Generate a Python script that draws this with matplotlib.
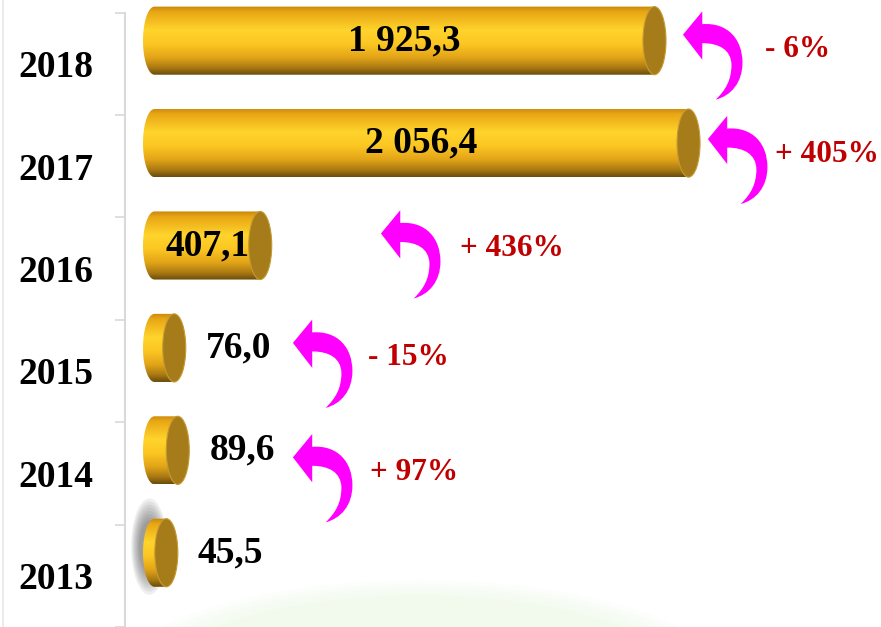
import numpy as np
import matplotlib
matplotlib.use("Agg")
import matplotlib.pyplot as plt
from matplotlib.path import Path
from matplotlib.patches import PathPatch, Ellipse
from matplotlib.colors import LinearSegmentedColormap
from matplotlib.transforms import Affine2D, ScaledTranslation, IdentityTransform

YEARS = ["2013", "2014", "2015", "2016", "2017", "2018"]
VALUES = [45.5, 89.6, 76.0, 407.1, 2056.4, 1925.3]
# change vs previous year, for 2014..2018
CHANGE_LABELS = ["+ 97%", "- 15%", "+ 436%", "+ 405%", "- 6%"]

# hand placed arrows: tip x in value units, pixel offsets
ARROW_X = [533, 533, 872, 2131, 2035]
ARROW_DY = [7, -5, -12, -4, -6]
LABEL_DX = [77, 75, 79, 67, 82]

FONT = "Liberation Serif"
BAR_SHIFT = 0.225    # bars sit a bit above the category centre
BAR_H = 0.665
CAP_W = 88.6         # width of the end ellipse, value units
INSIDE_MIN = 300     # values above this get the label inside the bar

gold = LinearSegmentedColormap.from_list("gold", [
    (0.0, "#c8860c"), (0.08, "#e8a614"), (0.35, "#ffd42c"), (0.55, "#fcc622"),
    (0.75, "#e2a418"), (0.9, "#a87812"), (1.0, "#6a4c0c")])


def fmt(v):
    return f"{v:,.1f}".replace(",", " ").replace(".", ",")


def arrow_path():
    verts = [(0, 0), (19.3, -23.3), (19.3, -10.5),
             (45, -12.5), (59.5, 5), (59.5, 28),
             (59.5, 48), (48, 61), (32.7, 65),
             (43, 55), (48.5, 45), (48.5, 30),
             (48, 15), (36, 8.5), (19.3, 8.5),
             (19.3, 25), (0, 0)]
    codes = [Path.MOVETO, Path.LINETO, Path.LINETO] + [Path.CURVE4] * 12 + [Path.LINETO, Path.CLOSEPOLY]
    return Path(verts, codes)


fig = plt.figure(figsize=(8.81, 6.27), dpi=100)
ax = fig.add_axes([125 / 881, 0, 1 - 125 / 881, 614.5 / 627])
ax.patch.set_visible(False)

# faint green glow at the bottom and slide border
for sc in [1.10, 1.06, 1.02, 0.98, 0.94]:
    ax.add_patch(Ellipse((420, -55), 560 * sc, 185 * sc, transform=IdentityTransform(),
                         facecolor="#e8f7e0", edgecolor="none", alpha=0.12, zorder=0, clip_on=False))
fig.add_artist(plt.Line2D([3 / 881, 3 / 881], [0, 1], color="#e8e8e8", lw=1.2))

for i, v in enumerate(VALUES):
    yc = i + BAR_SHIFT
    top, bot = yc + BAR_H / 2, yc - BAR_H / 2

    if i == 0:
        # soft shadow behind the smallest cylinder
        for sc in np.linspace(1.0, 0.55, 8):
            ax.add_patch(Ellipse((-20, yc + 0.06), 140 * sc, 0.94 * sc, facecolor="#3a3a3a",
                                 edgecolor="none", alpha=0.08, zorder=1))

    t = np.linspace(np.pi / 2, 3 * np.pi / 2, 40)
    left = np.column_stack([CAP_W / 2 * np.cos(t), yc + BAR_H / 2 * np.sin(t)])
    verts = np.vstack([[(v, top)], left, [(v, bot)], [(v, top)]])
    body = PathPatch(Path(verts, closed=True), facecolor="none", edgecolor="none",
                     zorder=2, clip_on=False)
    ax.add_patch(body)
    grad = np.linspace(0, 1, 200).reshape(-1, 1)
    im = ax.imshow(grad, extent=(-CAP_W / 2, v, bot, top), aspect="auto", cmap=gold,
                   origin="upper", interpolation="bicubic", zorder=2)
    im.set_clip_box(fig.bbox)
    im.set_clip_path(body)
    ax.add_patch(Ellipse((v, yc), CAP_W, BAR_H, facecolor="#a67c1a", edgecolor="#c49a32",
                         lw=0.8, zorder=3, clip_on=False))

    if v > INSIDE_MIN:
        ax.text(v / 2, yc, fmt(v), ha="center", va="center", fontsize=27,
                fontweight="bold", family=FONT, color="black", zorder=4)
    else:
        ax.annotate(fmt(v), xy=(v + CAP_W / 2, yc), xytext=(20, 0), textcoords="offset pixels",
                    ha="left", va="center", fontsize=27, fontweight="bold", family=FONT,
                    color="black", zorder=4)

# curved arrows with the year over year change
shape = arrow_path()
for k, lab in enumerate(CHANGE_LABELS):
    yc = k + 1 + BAR_SHIFT
    tr = Affine2D().scale(1, -1).translate(0, -ARROW_DY[k]) + ScaledTranslation(ARROW_X[k], yc, ax.transData)
    ax.add_patch(PathPatch(shape, transform=tr, facecolor="#ff00ff", edgecolor="none",
                           zorder=5, clip_on=False))
    ax.annotate(lab, xy=(ARROW_X[k], yc), xytext=(LABEL_DX[k], -(ARROW_DY[k] + 15)),
                textcoords="offset pixels", ha="left", va="center", fontsize=22.5,
                fontweight="bold", family=FONT, color="#c00000", zorder=5)

ax.set_xlim(-113.6, 2797.5)
ax.set_ylim(-0.5, 5.5)

for side in ["top", "right", "bottom"]:
    ax.spines[side].set_visible(False)
ax.spines["left"].set_color("#d9d9d9")
ax.spines["left"].set_linewidth(1.5)
ax.set_xticks([])
ax.set_yticks(range(len(YEARS)))
ax.set_yticklabels(YEARS, fontsize=27, fontweight="bold", family=FONT)
ax.set_yticks(np.arange(-0.5, len(YEARS), 1), minor=True)
ax.tick_params(axis="y", which="major", length=0, pad=23)
ax.tick_params(axis="y", which="minor", length=7.5, width=1.2, color="#d9d9d9")

fig.savefig("out.png", dpi=100)
